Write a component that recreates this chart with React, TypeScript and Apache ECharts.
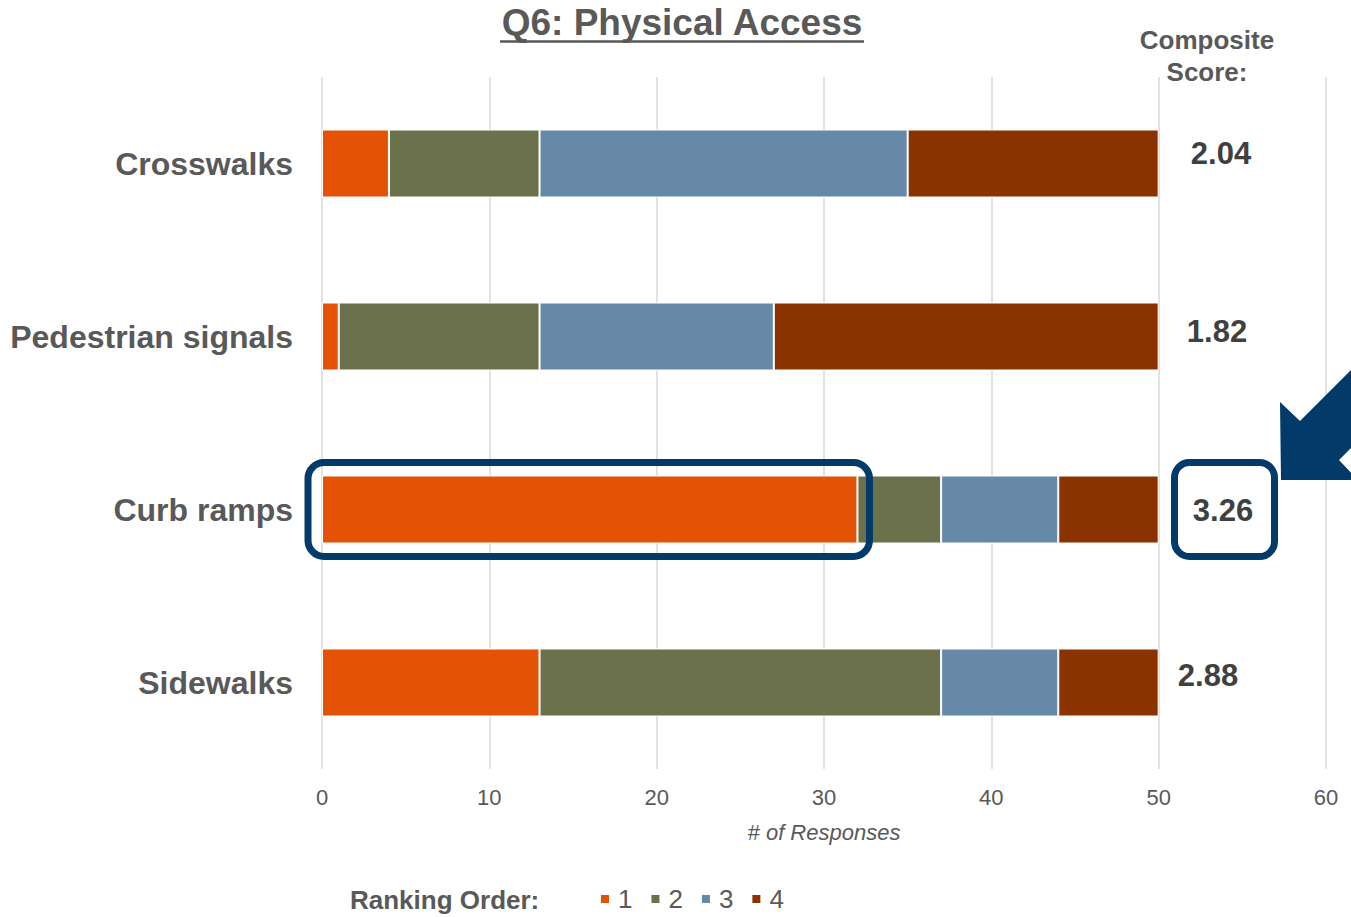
import React, { useEffect, useRef } from 'react';
import * as echarts from 'echarts';

const categories = ['Crosswalks', 'Pedestrian signals', 'Curb ramps', 'Sidewalks'];
const rankNames = ['1', '2', '3', '4'];
const rank1 = [4, 1, 32, 13];
const rank2 = [9, 12, 5, 24];
const rank3 = [22, 14, 7, 7];
const rank4 = [15, 23, 6, 6];
const compositeScores = ['2.04', '1.82', '3.26', '2.88'];
const xMin = 0;
const xMax = 60;
const xInterval = 10;

const colors = ['#E35205', '#6B714A', '#6689A7', '#8A3200'];
const FONT = 'Liberation Sans, Arial, sans-serif';
const GREY = '#595959';
const NAVY = '#023A69';

// layout for annotation texts (centre x, centre y)
const scoreAnchors = [
  [1221, 153],
  [1217, 331],
  [1223, 510],
  [1208, 675],
];

export default function App() {
  const ref = useRef<HTMLDivElement>(null);

  useEffect(() => {
    if (!ref.current) return;
    const chart = echarts.init(ref.current, null, { renderer: 'svg' });
    const seriesData = [rank1, rank2, rank3, rank4];
    chart.setOption({
      animation: false,
      textStyle: { fontFamily: FONT },
      grid: { left: 322, right: 25, top: 77, bottom: 148, containLabel: false },
      xAxis: {
        type: 'value',
        min: xMin,
        max: xMax,
        interval: xInterval,
        axisLine: { show: false },
        axisTick: { show: false },
        splitLine: { show: true, lineStyle: { color: '#D9D9D9', width: 1.5 } },
        axisLabel: { color: GREY, fontSize: 22, margin: 17, fontFamily: FONT },
        name: '# of Responses',
        nameLocation: 'middle',
        nameGap: 52,
        nameTextStyle: { color: GREY, fontSize: 22, fontStyle: 'italic', fontFamily: FONT },
      },
      yAxis: {
        type: 'category',
        data: categories,
        inverse: true,
        axisLine: { show: false },
        axisTick: { show: false },
        splitLine: { show: false },
        axisLabel: { color: GREY, fontSize: 32, fontWeight: 'bold', margin: 29, fontFamily: FONT },
      },
      legend: {
        data: rankNames,
        left: 594,
        top: 881,
        icon: 'rect',
        itemWidth: 10,
        itemHeight: 10,
        itemGap: 17,
        textStyle: { color: GREY, fontSize: 26, fontFamily: FONT, padding: [0, 0, 0, 3] },
      },
      series: seriesData.map((d, i) => ({
        name: rankNames[i],
        type: 'bar',
        stack: 'total',
        barWidth: 68,
        data: d,
        itemStyle: { color: colors[i], borderColor: '#FFFFFF', borderWidth: 1 },
      })),
    });

    const curbIdx = 2;
    const p0 = chart.convertToPixel({ xAxisIndex: 0, yAxisIndex: 0 }, [0, curbIdx]) as number[];
    const p1 = chart.convertToPixel({ xAxisIndex: 0, yAxisIndex: 0 }, [rank1[curbIdx], curbIdx]) as number[];
    const boxTop = p0[1] - 47;
    const boxH = 94;

    const graphics: any[] = [
      {
        type: 'text',
        x: 682,
        y: 22,
        style: {
          text: 'Q6: Physical Access',
          font: `bold 37px ${FONT}`,
          fill: GREY,
          textAlign: 'center',
          textVerticalAlign: 'middle',
        },
      },
      {
        type: 'line',
        shape: { x1: 500, y1: 41.5, x2: 864, y2: 41.5 },
        style: { stroke: GREY, lineWidth: 2.5 },
      },
      {
        type: 'text',
        x: 1207,
        y: 56,
        style: {
          text: 'Composite\nScore:',
          font: `bold 26px ${FONT}`,
          fill: GREY,
          textAlign: 'center',
          textVerticalAlign: 'middle',
          lineHeight: 32,
        },
      },
      {
        type: 'text',
        x: 350,
        y: 900,
        style: {
          text: 'Ranking Order:',
          font: `bold 26px ${FONT}`,
          fill: GREY,
          textAlign: 'left',
          textVerticalAlign: 'middle',
        },
      },
      {
        type: 'rect',
        shape: { x: p0[0] - 14, y: boxTop, width: p1[0] - p0[0] + 26, height: boxH, r: 16 },
        style: { fill: 'none', stroke: NAVY, lineWidth: 7 },
        z: 100,
      },
      {
        type: 'rect',
        shape: { x: 1174.5, y: boxTop, width: 100, height: boxH, r: 15 },
        style: { fill: 'none', stroke: NAVY, lineWidth: 7 },
        z: 100,
      },
      {
        type: 'polygon',
        shape: {
          points: [
            [1281, 480],
            [1280, 402],
            [1300, 421],
            [1400, 321],
            [1439, 360],
            [1339, 460],
            [1358, 480],
          ],
        },
        style: { fill: NAVY },
        z: 100,
      },
    ];

    compositeScores.forEach((s, i) => {
      graphics.push({
        type: 'text',
        x: scoreAnchors[i][0],
        y: scoreAnchors[i][1],
        style: {
          text: s,
          font: `bold 31px ${FONT}`,
          fill: '#404040',
          textAlign: 'center',
          textVerticalAlign: 'middle',
        },
      });
    });

    chart.setOption({ graphic: graphics });

    return () => chart.dispose();
  }, []);

  return (
    <div
      ref={ref}
      style={{ position: 'fixed', left: 0, top: 0, width: 1351, height: 917, background: '#FFFFFF' }}
    />
  );
}
